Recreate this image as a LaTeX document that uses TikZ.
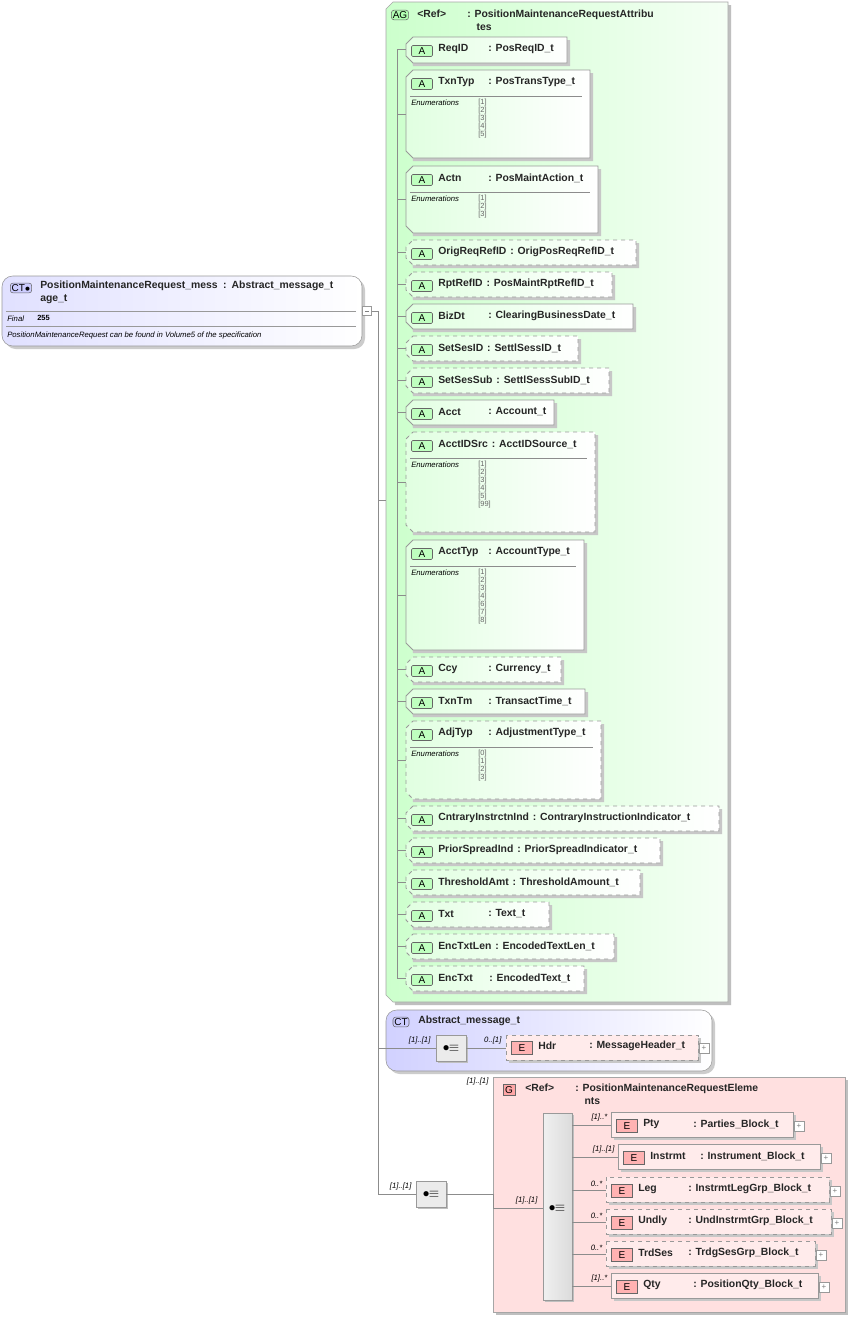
\documentclass[tikz,border=0pt]{standalone}
\usepackage{fontspec}
\setmainfont{Liberation Sans}
\begin{document}
\begin{tikzpicture}[x=0.75pt,y=-0.75pt,
  nm/.style={font=\bfseries\fontsize{7.8}{9.5}\selectfont,anchor=west,inner sep=0,text=black!85},
  mult/.style={font=\itshape\fontsize{5.8}{6}\selectfont,anchor=south east,inner sep=1pt},
  enum/.style={font=\fontsize{5.6}{6}\selectfont,anchor=west,inner sep=0,text=black!60},
  enl/.style={font=\itshape\fontsize{5.8}{6}\selectfont,anchor=west,inner sep=0},
  tree/.style={draw=black!45,line width=0.5pt},
  abox/.style={draw=black!40,line width=0.6pt,left color=green!12,right color=white},
  ebox/.style={draw=black!40,line width=0.6pt,fill=red!8},
  badgeA/.style={draw=black!60,fill=green!25,rounded corners=1pt,font=\fontsize{7.5}{8}\selectfont,inner sep=0,minimum width=21pt*0.75,minimum height=11pt*0.75},
  badgeE/.style={draw=black!60,fill=red!30,font=\fontsize{7.5}{8}\selectfont,inner sep=0,minimum width=21pt*0.75,minimum height=13pt*0.75},
  seqic/.style={draw=black!40,fill=black!8},
  plus/.style={draw=black!40,fill=white,minimum size=7.5pt,inner sep=0,font=\fontsize{6}{6}\selectfont,text=black!50}
]
\useasboundingbox (0,0) rectangle (851,1317);
\fill[white] (0,0) rectangle (851,1317);

% ---------- left CT box
\fill[black!20,rounded corners=8] (5,279) rectangle (365,349);
\draw[draw=black!40,rounded corners=8,left color=blue!12,right color=white] (2,276) rectangle (362,346);
\node[draw=black!60,fill=blue!20,rounded corners=2pt,inner sep=1pt,font=\fontsize{7.5}{8}\selectfont] (ctb) at (21,288) {CT$\bullet$};
\node[nm,align=left,text width=320*0.75pt] (ctname) at (40,292) {PositionMaintenanceRequest\_mess\hspace{4pt}: Abstract\_message\_t\\age\_t};
\draw[black!40] (6,311) -- (356,311);
\node[enl] (fin) at (7,319) {Final};
\node[enum,font=\bfseries\fontsize{5.6}{6}\selectfont,text=black] (fv) at (37,318) {255};
\draw[black!40] (6,326) -- (356,326);
\node[enl] (doc) at (7,335) {PositionMaintenanceRequest can be found in Volume5 of the specification};
\node[draw=black!40,fill=white,minimum size=7pt,inner sep=0] (minus) at (367,311) {};
\draw[black!50] (365,311) -- (369,311);

% main tree
\coordinate (t0) at (378,311);
\coordinate (tb) at (378,1194);
\draw[tree] (minus.east) -- (t0) -- (tb);

% ---------- AG box
\fill[black!25] (389,5) -- (731,5) -- (731,1005) -- (395,1005) -- cycle;
\draw[draw=black!35,left color=green!20,right color=green!4] (393,2) -- (728,2) -- (728,1002) -- (393,1002) -- (386,995) -- (386,9) -- cycle;
\coordinate (agw) at (386,500);
\coordinate (t1) at (378,500);
\draw[tree] (t1) -- (agw);
\node[draw=black!60,fill=green!30,rounded corners=2pt,inner sep=1pt,font=\fontsize{7.5}{8}\selectfont] (agb) at (400,15) {AG};
\node[nm] (agref) at (417,14) {<Ref>};
\node[nm,align=left] (agt) at (467,20) {: PositionMaintenanceRequestAttribu\\\hspace{7pt}tes};

\draw[tree] (397,50) -- (397,978);

\newcommand\Attr[9]{%
  \fill[black!22] (409,#2+3) -- (#4+3,#2+3) -- (#4+3,#3+3) -- (413,#3+3) -- cycle;
  \draw[abox,#5] (413,#2) -- (#4,#2) -- (#4,#3) -- (413,#3) -- (406,#3-7) -- (406,#2+7) -- cycle;
  \node[badgeA] (b#1) at (422,#2+14) {A};
  \node[nm] (n#1) at (438,#2+12) {#6};
  \ifnum#7=0
    \node[nm] (ty#1) at ([xshift=2.5pt]n#1.east) {: #8};
  \else
    \node[nm] (ty#1) at (#7,#2+12) {: #8};
  \fi
  \if\relax\detokenize{#9}\relax
    \coordinate (w#1) at (406,#2+12);
    \coordinate (tr#1) at (397,#2+12);
  \else
    \coordinate (w#1) at (406,#2/2+#3/2);
    \coordinate (tr#1) at (397,#2/2+#3/2);
    \draw[black!45] (410,#2+26) -- (#4-8,#2+26);
    \node[enl] (el#1) at (411,#2+33) {Enumerations};
    \foreach \v [count=\i] in {#9} { \node[enum] at (478,#2+25+8*\i) {{[}\v{]}}; }
  \fi
  \draw[tree] (tr#1) -- (w#1);
}
\Attr{a1}{37}{63}{567}{solid}{ReqID}{488}{PosReqID\_t}{}
\Attr{a2}{70}{158}{590}{solid}{TxnTyp}{488}{PosTransType\_t}{1,2,3,4,5}
\Attr{a3}{166}{233}{598}{solid}{Actn}{488}{PosMaintAction\_t}{1,2,3}
\Attr{a4}{240}{265}{636}{dashed}{OrigReqRefID}{0}{OrigPosReqRefID\_t}{}
\Attr{a5}{272}{297}{612}{dashed}{RptRefID}{0}{PosMaintRptRefID\_t}{}
\Attr{a6}{304}{329}{633}{solid}{BizDt}{488}{ClearingBusinessDate\_t}{}
\Attr{a7}{336}{361}{578}{dashed}{SetSesID}{0}{SettlSessID\_t}{}
\Attr{a8}{368}{393}{609}{dashed}{SetSesSub}{0}{SettlSessSubID\_t}{}
\Attr{a9}{400}{425}{554}{solid}{Acct}{488}{Account\_t}{}
\Attr{a10}{432}{532}{595}{dashed}{AcctIDSrc}{0}{AcctIDSource\_t}{1,2,3,4,5,99}
\Attr{a11}{540}{650}{584}{solid}{AcctTyp}{488}{AccountType\_t}{1,2,3,4,6,7,8}
\Attr{a12}{657}{682}{561}{dashed}{Ccy}{488}{Currency\_t}{}
\Attr{a13}{689}{714}{585}{solid}{TxnTm}{488}{TransactTime\_t}{}
\Attr{a14}{721}{799}{601}{dashed}{AdjTyp}{488}{AdjustmentType\_t}{0,1,2,3}
\Attr{a15}{806}{831}{719}{dashed}{CntraryInstrctnInd}{0}{ContraryInstructionIndicator\_t}{}
\Attr{a16}{838}{863}{660}{dashed}{PriorSpreadInd}{0}{PriorSpreadIndicator\_t}{}
\Attr{a17}{870}{895}{640}{dashed}{ThresholdAmt}{0}{ThresholdAmount\_t}{}
\Attr{a18}{902}{927}{549}{dashed}{Txt}{488}{Text\_t}{}
\Attr{a19}{934}{959}{614}{dashed}{EncTxtLen}{0}{EncodedTextLen\_t}{}
\Attr{a20}{966}{991}{584}{dashed}{EncTxt}{489}{EncodedText\_t}{}

% ---------- Abstract_message_t
\fill[black!20,rounded corners=8] (389,1013) rectangle (715,1074);
\draw[draw=black!40,rounded corners=8,left color=blue!18,right color=white] (386,1010) rectangle (712,1071);
\node[draw=black!60,fill=blue!20,rounded corners=2pt,inner sep=1pt,font=\fontsize{7.5}{8}\selectfont] (ctb2) at (401,1022) {CT};
\node[nm] (absn) at (418,1021) {Abstract\_message\_t};
\coordinate (t2) at (378,1048);
\coordinate (absw) at (386,1048);
\draw[tree] (t2) -- (absw);
\fill[black!25] (438,1037) rectangle (468,1063);
\node[seqic,minimum width=22.5pt,minimum height=19.5pt,inner sep=0] (seq1) at (451,1048) {$\bullet\!\!\equiv$};
\draw[tree] (absw) -- (seq1.west);
\node[mult] at (432,1046) {[1]..[1]};
\fill[black!22] (509,1038) rectangle (701,1063);
\draw[ebox,dashed] (506,1035) rectangle (698,1060);
\coordinate (hdrw) at (506,1048);
\draw[tree] (seq1.east) -- (hdrw);
\node[mult] at (503,1046) {0..[1]};
\node[badgeE] (bh) at (522,1048) {E};
\node[nm] (hn) at (538,1046) {Hdr};
\node[nm] (ht) at (589,1046) {: MessageHeader\_t};
\node[plus] (ph) at (704,1048) {+};

% ---------- sequence + G box
\fill[black!25] (418,1183) rectangle (448,1209);
\node[seqic,minimum width=22.5pt,minimum height=19.5pt,inner sep=0] (seq2) at (431,1194) {$\bullet\!\!\equiv$};
\draw[tree] (tb) -- (seq2.west);
\node[mult] at (413,1192) {[1]..[1]};

\fill[black!25] (496,1080) rectangle (848,1315);
\draw[draw=black!35,fill=red!12] (493,1077) rectangle (845,1312);
\node[mult] at (490,1087) {[1]..[1]};
\node[draw=black!60,fill=red!35,inner sep=1.5pt,font=\fontsize{7.5}{8}\selectfont] (gb) at (509,1090) {G};
\node[nm] (gref) at (525,1088) {<Ref>};
\node[nm,align=left] (gt) at (575,1094) {: PositionMaintenanceRequestEleme\\\hspace{7pt}nts};
\coordinate (gw) at (493,1194);
\draw[tree] (seq2.east) -- (gw);
\fill[black!25] (545,1115) rectangle (574,1302);
\draw[draw=black!40,left color=black!6,right color=black!14] (543,1113) rectangle (572,1300);
\node[inner sep=0] (seq3) at (557,1208) {$\bullet\!\!\equiv$};
\coordinate (sqw) at (543,1208);
\draw[tree] (gw) |- (sqw);
\node[mult] at (539,1206) {[1]..[1]};

\newcommand\Elem[8]{%
  \fill[black!22] (#2+3,#3+3) rectangle (#4+3,#3+28);
  \draw[ebox,#5] (#2,#3) rectangle (#4,#3+25);
  \coordinate (ew#1) at (#2,#3+13);
  \coordinate (es#1) at (572,#3+13);
  \draw[tree] (es#1) -- (ew#1);
  \node[mult] at (#2-2,#3+11) {#8};
  \node[badgeE] (be#1) at (#2+16,#3+14) {E};
  \node[nm] (ne#1) at (#2+32,#3+12) {#6};
  \node[nm] (te#1) at (#2+82,#3+12) {: #7};
  \node[plus] (pe#1) at (#4+6,#3+14) {+};
}
\Elem{1}{611}{1112}{793}{solid}{Pty}{Parties\_Block\_t}{[1]..*}
\Elem{2}{618}{1144}{820}{solid}{Instrmt}{Instrument\_Block\_t}{[1]..[1]}
\Elem{3}{606}{1177}{829}{dashed}{Leg}{InstrmtLegGrp\_Block\_t}{0..*}
\Elem{4}{606}{1209}{831}{dashed}{Undly}{UndInstrmtGrp\_Block\_t}{0..*}
\Elem{5}{606}{1241}{815}{dashed}{TrdSes}{TrdgSesGrp\_Block\_t}{0..*}
\Elem{6}{611}{1273}{818}{solid}{Qty}{PositionQty\_Block\_t}{[1]..*}
\end{tikzpicture}
\end{document}
